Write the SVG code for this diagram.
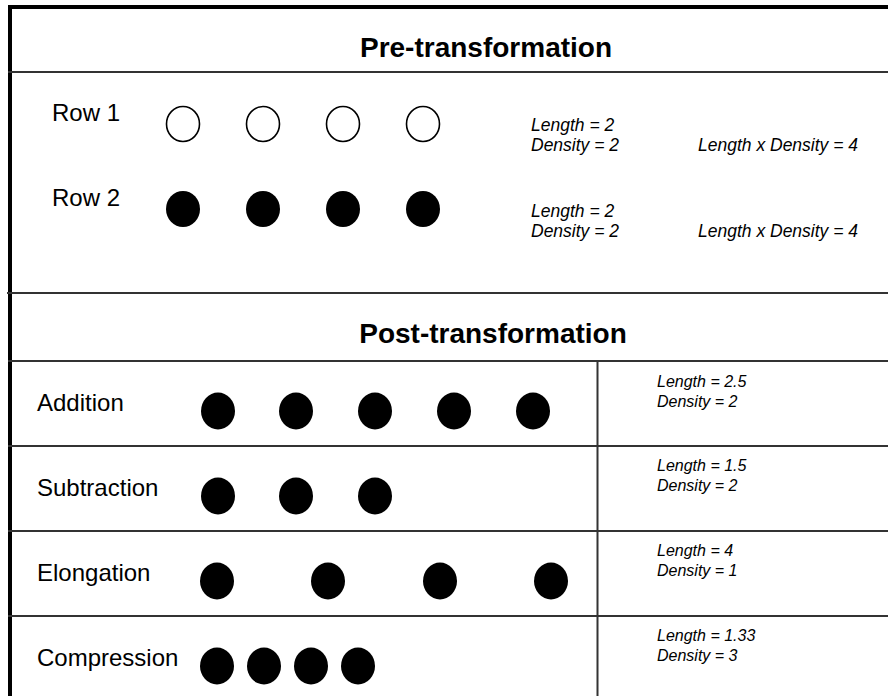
<svg xmlns="http://www.w3.org/2000/svg" width="888" height="696" viewBox="0 0 888 696">
<style>
text{font-family:"Liberation Sans",Arial,sans-serif;fill:#000}
.title{font-size:28px;font-weight:bold;text-anchor:middle}
.label{font-size:24px}
.info{font-size:17.5px;font-style:italic}
.info2{font-size:16px;font-style:italic}
.rule{stroke:#333;stroke-width:2;fill:none}
.border{stroke:#000;stroke-width:4;fill:none}
.open{fill:#fff;stroke:#000;stroke-width:1.6}
.dot{fill:#000}
</style>
<rect width="888" height="696" fill="#fff"/>
<g id="frame">
<line class="border" x1="10" y1="7" x2="888" y2="7"/>
<line class="border" x1="10" y1="5" x2="10" y2="696"/>
<line class="rule" x1="8" y1="72" x2="888" y2="72"/>
<line class="rule" x1="7" y1="293" x2="888" y2="293"/>
<line class="rule" x1="8" y1="361" x2="888" y2="361"/>
<line class="rule" x1="8" y1="446" x2="888" y2="446"/>
<line class="rule" x1="8" y1="531" x2="888" y2="531"/>
<line class="rule" x1="8" y1="616" x2="888" y2="616"/>
<line class="rule" x1="597.5" y1="361" x2="597.5" y2="696"/>
</g>
<g id="pre-title"><text class="title" x="486" y="57">Pre-transformation</text></g>
<g id="row1">
<text class="label" x="52" y="121">Row 1</text>
<ellipse class="open" cx="183" cy="124" rx="16.5" ry="17.5"/>
<ellipse class="open" cx="263" cy="124" rx="16.5" ry="17.5"/>
<ellipse class="open" cx="343" cy="124" rx="16.5" ry="17.5"/>
<ellipse class="open" cx="423" cy="124" rx="16.5" ry="17.5"/>
<text class="info" x="531" y="131">Length = 2</text>
<text class="info" x="531" y="151">Density = 2</text>
<text class="info" x="698" y="151">Length x Density = 4</text>
</g>
<g id="row2">
<text class="label" x="52" y="206">Row 2</text>
<ellipse class="dot" cx="183" cy="209" rx="17" ry="18"/>
<ellipse class="dot" cx="263" cy="209" rx="17" ry="18"/>
<ellipse class="dot" cx="343" cy="209" rx="17" ry="18"/>
<ellipse class="dot" cx="423" cy="209" rx="17" ry="18"/>
<text class="info" x="531" y="217">Length = 2</text>
<text class="info" x="531" y="237">Density = 2</text>
<text class="info" x="698" y="237">Length x Density = 4</text>
</g>
<g id="post-title"><text class="title" x="493" y="343">Post-transformation</text></g>
<g id="addition">
<text class="label" x="37" y="411">Addition</text>
<ellipse class="dot" cx="218" cy="411" rx="17" ry="18.5"/>
<ellipse class="dot" cx="296" cy="411" rx="17" ry="18.5"/>
<ellipse class="dot" cx="375" cy="411" rx="17" ry="18.5"/>
<ellipse class="dot" cx="454" cy="411" rx="17" ry="18.5"/>
<ellipse class="dot" cx="533" cy="411" rx="17" ry="18.5"/>
<text class="info2" x="657" y="387">Length = 2.5</text>
<text class="info2" x="657" y="407">Density = 2</text>
</g>
<g id="subtraction">
<text class="label" x="37" y="496">Subtraction</text>
<ellipse class="dot" cx="218" cy="496" rx="17" ry="18.5"/>
<ellipse class="dot" cx="296" cy="496" rx="17" ry="18.5"/>
<ellipse class="dot" cx="375" cy="496" rx="17" ry="18.5"/>
<text class="info2" x="657" y="471">Length = 1.5</text>
<text class="info2" x="657" y="491">Density = 2</text>
</g>
<g id="elongation">
<text class="label" x="37" y="581">Elongation</text>
<ellipse class="dot" cx="217" cy="581" rx="17" ry="18.5"/>
<ellipse class="dot" cx="328" cy="581" rx="17" ry="18.5"/>
<ellipse class="dot" cx="440" cy="581" rx="17" ry="18.5"/>
<ellipse class="dot" cx="551" cy="581" rx="17" ry="18.5"/>
<text class="info2" x="657" y="556">Length = 4</text>
<text class="info2" x="657" y="576">Density = 1</text>
</g>
<g id="compression">
<text class="label" x="37" y="666">Compression</text>
<ellipse class="dot" cx="217" cy="666" rx="17" ry="18.5"/>
<ellipse class="dot" cx="264" cy="666" rx="17" ry="18.5"/>
<ellipse class="dot" cx="311" cy="666" rx="17" ry="18.5"/>
<ellipse class="dot" cx="358" cy="666" rx="17" ry="18.5"/>
<text class="info2" x="657" y="641">Length = 1.33</text>
<text class="info2" x="657" y="661">Density = 3</text>
</g>
</svg>
